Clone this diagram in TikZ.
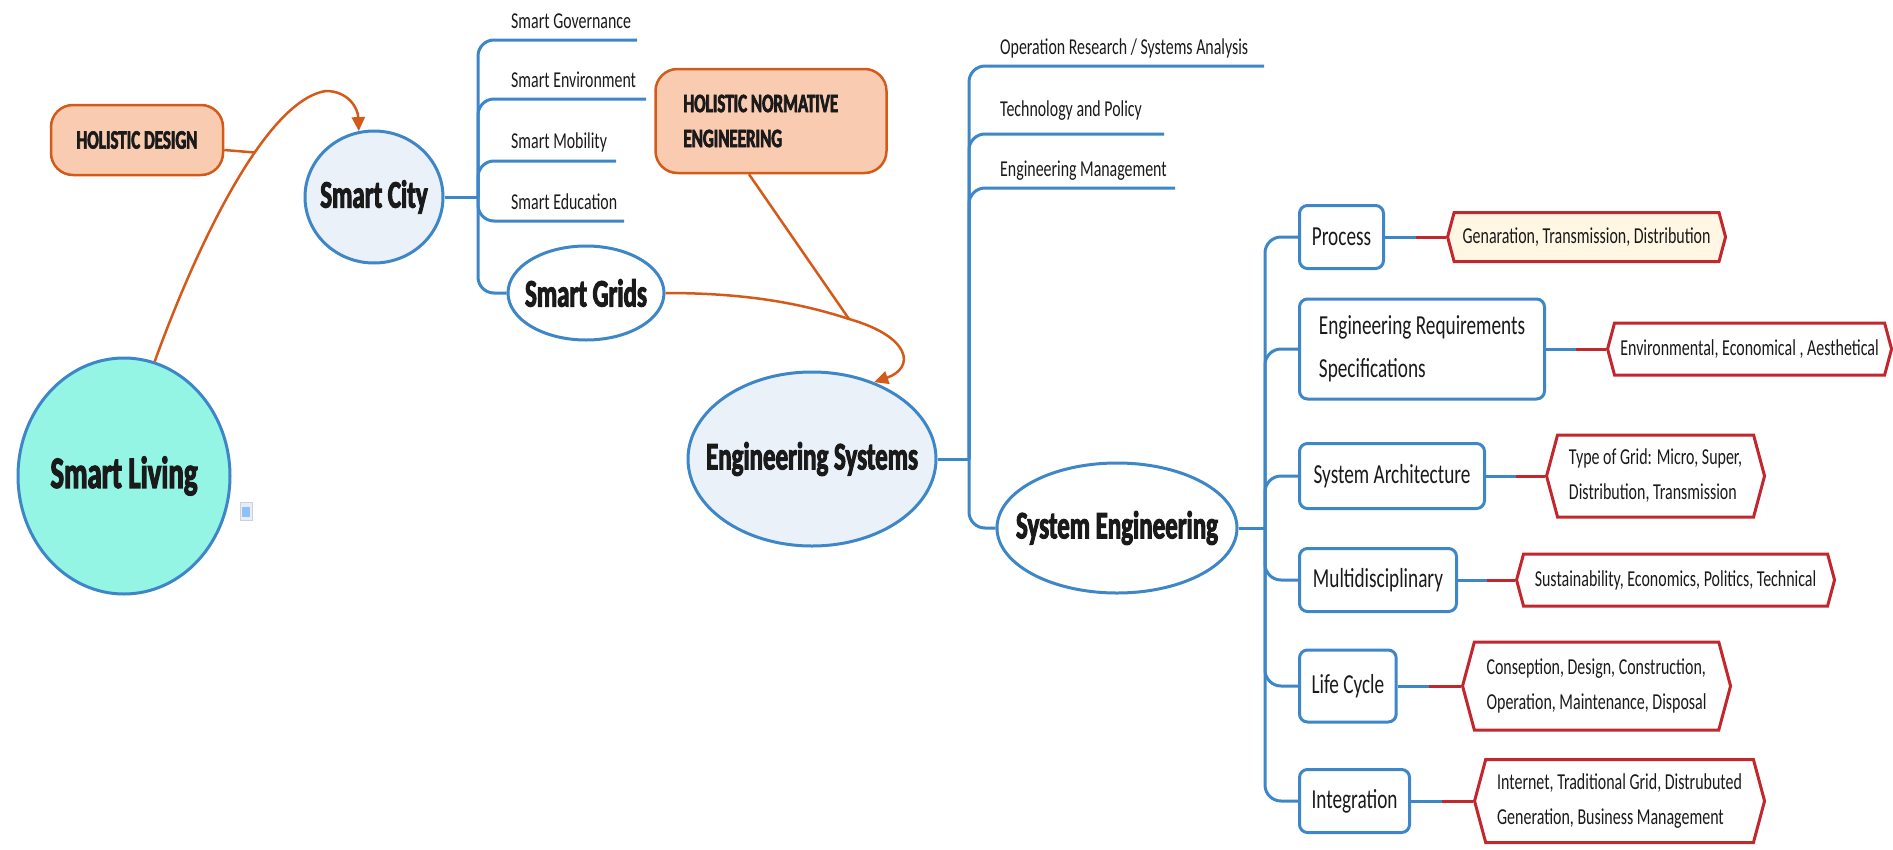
\documentclass[tikz,border=0pt]{standalone}
\usepackage{fontspec}
\setmainfont{Carlito}[FakeStretch=0.7]
\newfontfamily\heavy{Carlito}[FakeStretch=0.64,BoldFeatures={FakeBold=2.5}]
\usetikzlibrary{shapes.geometric,shapes.symbols,arrows.meta,calc}
\definecolor{mblue}{HTML}{3D86C8}
\definecolor{morange}{HTML}{D45A1A}
\definecolor{peach}{HTML}{F9CCB2}
\definecolor{lblue}{HTML}{EAF1F9}
\definecolor{mint}{HTML}{95F5E4}
\definecolor{mred}{HTML}{C1272D}
\definecolor{cream}{HTML}{FFF6E3}
\definecolor{ink}{HTML}{1A1A1A}
\definecolor{iconfr}{HTML}{C9D3DE}
\definecolor{iconbg}{HTML}{E8EEF5}
\definecolor{iconin}{HTML}{8EC2F6}
\begin{document}
\begin{tikzpicture}[x=1pt,y=-1pt,
 bubble/.style={ellipse,draw=mblue,line width=3pt,inner sep=0pt},
 bigtxt/.style={font=\heavy\bfseries\fontsize{39}{42}\selectfont,text=ink,inner sep=0pt},
 br/.style={draw=mblue,line width=3pt},
 rl/.style={draw=mred,line width=3pt},
 oline/.style={draw=morange,line width=2.5pt},
 oarrow/.style={-{Triangle[length=14pt,width=13pt]}},
 lbl/.style={font=\fontsize{22.7}{26}\selectfont,text=ink,anchor=base west,inner sep=0pt},
 tbox/.style={draw=mblue,line width=3pt,rounded corners=8pt,fill=white,anchor=west,align=left,font=\fontsize{27.5}{43}\selectfont,text=ink,inner xsep=12pt},
 hex/.style={signal,signal to=west and east,signal pointer angle=150,draw=mred,line width=3pt,fill=white,anchor=west,align=left,font=\fontsize{22.8}{35}\selectfont,text=ink,inner xsep=3pt},
 obox/.style={draw=morange,line width=2.5pt,fill=peach,rounded corners=22pt,font=\heavy\bfseries\fontsize{26.5}{35}\selectfont,text=ink}
]
\useasboundingbox (0,0) rectangle (1893,849);

% Smart Living
\node[bubble,fill=mint,minimum width=212pt,minimum height=236pt] (living) at (124,476) {};
\node[bigtxt,font=\heavy\bfseries\fontsize{45}{48}\selectfont] (living-t) at (living.center) {Smart Living};
% icon
\node[draw=iconfr,fill=iconbg,line width=1pt,minimum width=12pt,minimum height=18pt,inner sep=0pt] (icon) at (246,511) {};
\node[fill=iconin,minimum width=8pt,minimum height=10pt,inner sep=0pt] (icon-in) at (246,512) {};

% Smart City
\node[bubble,fill=lblue,minimum width=138pt,minimum height=132pt] (sc) at (374,197) {};
\node[bigtxt] (sc-t) at (sc.center) {Smart City};

% Holistic design
\node[obox,minimum width=172pt,minimum height=70pt,inner sep=0pt] (hd) at (137,140) {HOLISTIC DESIGN};

% Smart City branches
\coordinate (scj) at (478,197);
\coordinate (gov-e) at (637,40);
\coordinate (env-e) at (646,99);
\coordinate (mob-e) at (616,161);
\coordinate (edu-e) at (624,221);
\draw[br] (sc.east) -- (scj);
\draw[br,rounded corners=16pt] (scj) |- (gov-e);
\draw[br,rounded corners=16pt] (scj) |- (env-e);
\draw[br,rounded corners=16pt] (scj) |- (mob-e);
\draw[br,rounded corners=16pt] (scj) |- (edu-e);
\node[lbl] (gov) at (511,28) {Smart Governance};
\node[lbl] (env) at (511,87) {Smart Environment};
\node[lbl] (mob) at (511,148) {Smart Mobility};
\node[lbl] (edu) at (511,209) {Smart Education};

% Smart Grids
\node[bubble,fill=white,minimum width=156pt,minimum height=94pt] (sg) at (586,293) {};
\node[bigtxt] (sg-t) at (sg.center) {Smart Grids};
\draw[br,rounded corners=16pt] (scj) |- (sg.west);

% Holistic normative engineering
\node[obox,minimum width=231pt,minimum height=104pt,text width=175pt,align=flush left,inner xsep=28pt,inner ysep=0pt] (hne) at (771,121) {HOLISTIC NORMATIVE\\ENGINEERING};

% Engineering Systems
\node[bubble,fill=lblue,minimum width=248pt,minimum height=174pt] (es) at (812,459) {};
\node[bigtxt] (es-t) at (es.center) {Engineering Systems};

% orange connectors
\coordinate (hnej) at (849,319);
\draw[oline,oarrow] (sg.east) .. controls (745,293) and (800,303) .. (hnej) .. controls (912,337) and (915,368) .. (es.51);
\draw[oline] ([xshift=-22pt]hne.south) -- (hnej);
\draw[oline,oarrow] (living.75) .. controls (195,250) and (265,100) .. (326,91) coordinate[pos=0.62] (hdj) .. controls (348,91) and (358,108) .. (sc.103);
\draw[oline] ([yshift=-10pt]hd.east) -- (hdj);

% Engineering Systems branches
\coordinate (esj) at (969,459);
\coordinate (ora-e) at (1264,66);
\coordinate (tp-e) at (1164,134);
\coordinate (em-e) at (1175,188);
\draw[br] (es.east) -- (esj);
\draw[br,rounded corners=16pt] (esj) |- (ora-e);
\draw[br,rounded corners=16pt] (esj) |- (tp-e);
\draw[br,rounded corners=16pt] (esj) |- (em-e);
\node[lbl] (ora) at (1000,54) {Operation Research / Systems Analysis};
\node[lbl] (tp) at (1000,116) {Technology and Policy};
\node[lbl] (em) at (1000,176) {Engineering Management};

% System Engineering
\node[bubble,fill=white,minimum width=240pt,minimum height=130pt] (se) at (1117,528) {};
\node[bigtxt] (se-t) at (se.center) {System Engineering};
\draw[br,rounded corners=16pt] (esj) |- (se.west);

% SE boxes
\coordinate (sej) at (1265,528);
\draw[br] (se.east) -- (sej);
\node[tbox,minimum width=84pt,minimum height=63pt] (proc) at (1298,237) {Process};
\node[tbox,minimum width=245pt,minimum height=100pt] (ers) at (1298,349) {Engineering Requirements\\Specifications};
\node[tbox,minimum width=185pt,minimum height=65pt] (sa) at (1298,476) {System Architecture};
\node[tbox,minimum width=157pt,minimum height=63pt] (md) at (1298,580) {Multidisciplinary};
\node[tbox,minimum width=90pt,minimum height=72pt] (lc) at (1298,686) {Life Cycle};
\node[tbox,minimum width=106pt,minimum height=63pt] (ig) at (1298,801) {Integration};
\foreach \b in {proc,ers,sa,md,lc,ig}{
  \draw[br,rounded corners=16pt] (sej) |- (\b.west);
}

% hex notes
\node[hex,fill=cream,minimum width=278pt,minimum height=49pt] (gen) at (1446,237) {Genaration, Transmission, Distribution};
\node[hex,minimum width=284pt,minimum height=52pt] (envn) at (1606,349) {Environmental, Economical , Aesthetical};
\node[hex,minimum width=218pt,minimum height=82pt] (tog) at (1545,476) {Type of Grid: Micro, Super,\\Distribution, Transmission};
\node[hex,minimum width=318pt,minimum height=52pt] (sus) at (1515,580) {Sustainability, Economics, Politics, Technical};
\node[hex,minimum width=268pt,minimum height=88pt] (con) at (1461,686) {Conseption, Design, Construction,\\Operation, Maintenance, Disposal};
\node[hex,minimum width=290pt,minimum height=83pt] (intg) at (1473,801) {Internet, Traditional Grid, Distrubuted\\Generation, Business Management};

% box to note connectors
\foreach \a/\h in {proc/gen,ers/envn,sa/tog,md/sus,lc/con,ig/intg}{
  \coordinate (\a-m) at ($(\a.east)!0.5!(\h.west)$);
  \draw[br] (\a.east) -- (\a-m);
  \draw[rl] (\a-m) -- (\h.west);
}
\end{tikzpicture}
\end{document}
